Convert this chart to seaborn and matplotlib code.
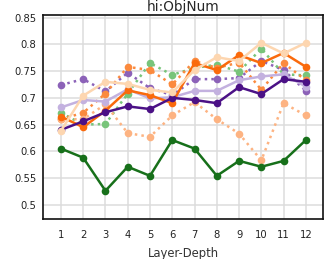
import numpy as np
import pandas as pd
import seaborn as sns
import matplotlib
matplotlib.use("Agg")
import matplotlib.pyplot as plt

# Данные
layers = list(range(1, 13))

dark_green = [0.605, 0.588, 0.526, 0.571, 0.554, 0.621, 0.605, 0.554, 0.582, 0.571, 0.582, 0.621]
dark_purple = [0.640, 0.656, 0.673, 0.684, 0.679, 0.700, 0.696, 0.690, 0.720, 0.707, 0.735, 0.730]
lavender = [0.682, 0.696, 0.693, 0.716, 0.699, 0.701, 0.713, 0.713, 0.733, 0.740, 0.744, 0.721]
mid_purple_dot = [0.724, 0.735, 0.712, 0.747, 0.718, 0.705, 0.735, 0.735, 0.737, 0.769, 0.752, 0.713]
orange = [0.665, 0.645, 0.676, 0.714, 0.705, 0.690, 0.765, 0.752, 0.780, 0.765, 0.784, 0.758]
orange_dot = [0.660, 0.672, 0.708, 0.758, 0.752, 0.725, 0.769, 0.756, 0.766, 0.715, 0.765, 0.733]
green_dot = [0.672, 0.650, 0.651, 0.708, 0.765, 0.743, 0.756, 0.762, 0.749, 0.792, 0.744, 0.742]
peach = [0.638, 0.704, 0.730, 0.726, 0.715, 0.710, 0.752, 0.776, 0.769, 0.803, 0.783, 0.803]
light_orange_dot = [0.660, 0.660, 0.688, 0.634, 0.627, 0.667, 0.692, 0.660, 0.633, 0.583, 0.690, 0.667]

# (значения, цвет, стиль линии) в порядке отрисовки
series = [
    (mid_purple_dot, "#8c62b8", ":"),
    (green_dot, "#78c47a", ":"),
    (orange_dot, "#fb8a3e", ":"),
    (light_orange_dot, "#fdb382", ":"),
    (lavender, "#c3b1df", "-"),
    (orange, "#fa6a0c", "-"),
    (dark_purple, "#4b1186", "-"),
    (peach, "#fdd6b0", "-"),
    (dark_green, "#17701a", "-"),
]

sns.set_style("white")
plt.rcParams['font.family'] = ['DejaVu Sans']

fig = plt.figure(figsize=(3.24, 2.59), dpi=100)
ax = fig.add_axes([0.133, 0.154, 0.864, 0.788])

for vals, color, ls in series:
    sns.lineplot(x=layers, y=vals, ax=ax, color=color, linestyle=ls,
                 linewidth=1.8, marker="o", markersize=5.5,
                 markeredgewidth=0, zorder=3)

ax.set_xlim(0.2, 12.77)
ax.set_ylim(0.473, 0.855)
ax.set_xticks(layers)
ax.set_yticks([0.5, 0.55, 0.6, 0.65, 0.7, 0.75, 0.8, 0.85])
ax.set_yticklabels(["0.5", "0.55", "0.6", "0.65", "0.7", "0.75", "0.8", "0.85"])
ax.tick_params(axis="x", length=0, labelsize=7.2, pad=8, colors="#222222")
ax.tick_params(axis="y", length=0, labelsize=7.2, pad=5, colors="#222222")
ax.grid(True, color="#dcdcdc", linewidth=1.1, zorder=0)
ax.set_axisbelow(True)
for sp in ax.spines.values():
    sp.set_color("#111111")
    sp.set_linewidth(1.2)

ax.set_title("hi:ObjNum", fontsize=9.8, pad=3)
ax.set_xlabel("Layer-Depth", fontsize=8.4, color="#333333", labelpad=5)
ax.set_ylabel("")

fig.savefig("out.png", dpi=100)
